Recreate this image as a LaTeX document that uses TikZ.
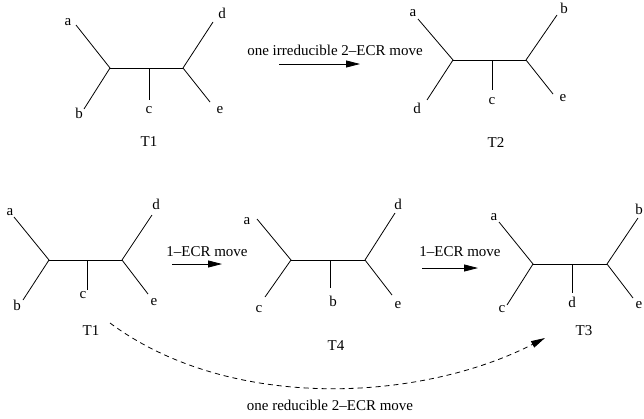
\documentclass[tikz,border=0pt]{standalone}
\usepackage{fontspec}
\setmainfont{Liberation Serif}
\usetikzlibrary{arrows.meta}
\begin{document}
\begin{tikzpicture}[x=1pt,y=-1pt,
  edge/.style={line width=0.8pt},
  lbl/.style={inner sep=0pt, font=\fontsize{15}{18}\selectfont},
  move/.style={line width=0.8pt, -{Triangle[length=14pt,width=7pt]}},
  remote/.style={line width=0.8pt, dashed, dash pattern=on 5pt off 4pt, -{Triangle[length=14pt,width=7pt]}}]
\useasboundingbox (0,0) rectangle (644,418);

% ---- tree T1 (top) ----
\coordinate (p1l) at (110,68); \coordinate (p1r) at (183,68); \coordinate (p1m) at (149,68);
\coordinate (p1a) at (76,25);  \coordinate (p1b) at (84,109);
\coordinate (p1c) at (149,100); \coordinate (p1d) at (213,22); \coordinate (p1e) at (210,102);
\draw[edge] (p1a) -- (p1l) -- (p1b);
\draw[edge] (p1l) -- (p1r);
\draw[edge] (p1m) -- (p1c);
\draw[edge] (p1d) -- (p1r) -- (p1e);
\node[lbl] (t1a) at (68,22) {a};
\node[lbl] (t1b) at (79,113) {b};
\node[lbl] (t1c) at (149,110) {c};
\node[lbl] (t1d) at (222,13) {d};
\node[lbl] (t1e) at (220,110) {e};
\node[lbl] (t1) at (149,142) {T1};

% ---- move to T2 ----
\coordinate (m1s) at (279,64); \coordinate (m1e) at (360,64);
\draw[move] (m1s) -- (m1e);
\node[lbl] (m1t) at (335,50) {one irreducible 2–ECR move};

% ---- tree T2 ----
\coordinate (p2l) at (453,60); \coordinate (p2r) at (526,60); \coordinate (p2m) at (492,60);
\coordinate (p2a) at (418,19); \coordinate (p2d) at (427,100);
\coordinate (p2c) at (492,90); \coordinate (p2b) at (557,15); \coordinate (p2e) at (553,94);
\draw[edge] (p2a) -- (p2l) -- (p2d);
\draw[edge] (p2l) -- (p2r);
\draw[edge] (p2m) -- (p2c);
\draw[edge] (p2b) -- (p2r) -- (p2e);
\node[lbl] (t2a) at (413,13) {a};
\node[lbl] (t2d) at (417,108) {d};
\node[lbl] (t2c) at (492,101) {c};
\node[lbl] (t2b) at (564,8) {b};
\node[lbl] (t2e) at (563,98) {e};
\node[lbl] (t2) at (496,143) {T2};

% ---- tree T1 (bottom) ----
\coordinate (q1l) at (49,260); \coordinate (q1r) at (122,260); \coordinate (q1m) at (87,260);
\coordinate (q1a) at (14,217); \coordinate (q1b) at (23,300);
\coordinate (q1c) at (87,290); \coordinate (q1d) at (152,215); \coordinate (q1e) at (148,294);
\draw[edge] (q1a) -- (q1l) -- (q1b);
\draw[edge] (q1l) -- (q1r);
\draw[edge] (q1m) -- (q1c);
\draw[edge] (q1d) -- (q1r) -- (q1e);
\node[lbl] (u1a) at (10,212) {a};
\node[lbl] (u1b) at (17,305) {b};
\node[lbl] (u1c) at (83,295) {c};
\node[lbl] (u1d) at (156,204) {d};
\node[lbl] (u1e) at (154,302) {e};
\node[lbl] (u1) at (91,331) {T1};

% ---- move T1 -> T4 ----
\coordinate (m2s) at (172,264); \coordinate (m2e) at (222,264);
\draw[move] (m2s) -- (m2e);
\node[lbl] (m2t) at (207,252) {1–ECR move};

% ---- tree T4 ----
\coordinate (q4l) at (291,260); \coordinate (q4r) at (365,260); \coordinate (q4m) at (330,260);
\coordinate (q4a) at (257,219); \coordinate (q4c) at (265,297);
\coordinate (q4b) at (330,288); \coordinate (q4d) at (395,213); \coordinate (q4e) at (392,295);
\draw[edge] (q4a) -- (q4l) -- (q4c);
\draw[edge] (q4l) -- (q4r);
\draw[edge] (q4m) -- (q4b);
\draw[edge] (q4d) -- (q4r) -- (q4e);
\node[lbl] (u4a) at (247,221) {a};
\node[lbl] (u4c) at (259,309) {c};
\node[lbl] (u4b) at (333,301) {b};
\node[lbl] (u4d) at (398,204) {d};
\node[lbl] (u4e) at (398,305) {e};
\node[lbl] (u4) at (336,346) {T4};

% ---- move T4 -> T3 ----
\coordinate (m3s) at (422,268); \coordinate (m3e) at (478,268);
\draw[move] (m3s) -- (m3e);
\node[lbl] (m3t) at (460,252) {1–ECR move};

% ---- tree T3 ----
\coordinate (q3l) at (533,264); \coordinate (q3r) at (607,264); \coordinate (q3m) at (572,264);
\coordinate (q3a) at (499,222); \coordinate (q3c) at (507,305);
\coordinate (q3d) at (572,293); \coordinate (q3b) at (638,218); \coordinate (q3e) at (633,298);
\draw[edge] (q3a) -- (q3l) -- (q3c);
\draw[edge] (q3l) -- (q3r);
\draw[edge] (q3m) -- (q3d);
\draw[edge] (q3b) -- (q3r) -- (q3e);
\node[lbl] (u3a) at (494,217) {a};
\node[lbl] (u3c) at (502,309) {c};
\node[lbl] (u3d) at (572,302) {d};
\node[lbl] (u3b) at (639,209) {b};
\node[lbl] (u3e) at (639,305) {e};
\node[lbl] (u3) at (584,331) {T3};

% ---- direct move T1 -> T3 ----
\coordinate (rs) at (110,323); \coordinate (re) at (545,338);
\draw[remote] (rs) .. controls (230,412) and (420,402) .. (re);
\node[lbl] (rt) at (330,405) {one reducible 2–ECR move};
\end{tikzpicture}
\end{document}
